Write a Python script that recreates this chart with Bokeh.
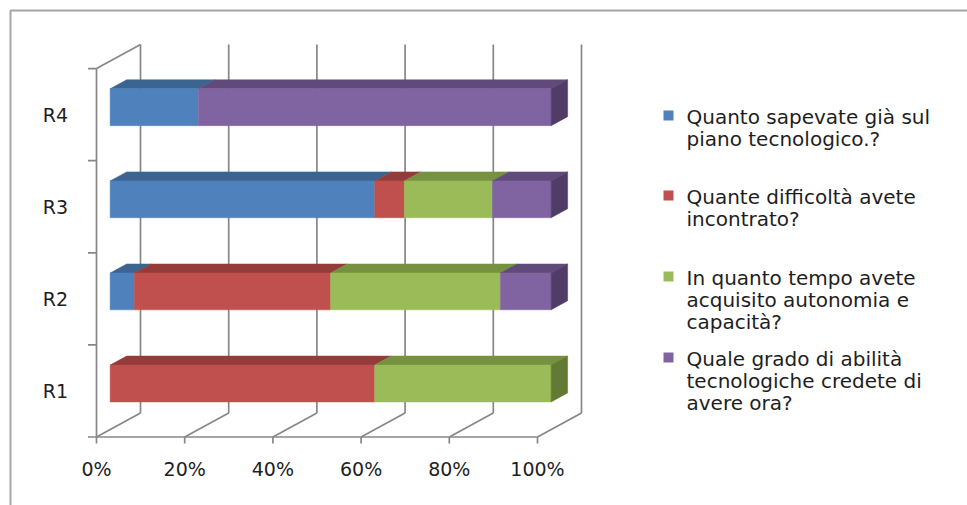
from bokeh.plotting import figure
from bokeh.models import Range1d
from bokeh.embed import file_html
from bokeh.resources import INLINE
from bokeh.core.properties import value

# ---------------- data ----------------
categories = ["R1", "R2", "R3", "R4"]
series_names = [
    "Quanto sapevate  già sul\npiano tecnologico.?",
    "Quante difficoltà avete\nincontrato?",
    "In quanto tempo avete\nacquisito autonomia  e\ncapacità?",
    "Quale grado di  abilità\ntecnologiche credete di\navere ora?",
]
s_sapevate = [0.0, 5.5, 60.0, 20.0]
s_difficolta = [60.0, 44.5, 6.7, 0.0]
s_tempo = [40.0, 38.5, 20.0, 0.0]
s_abilita = [0.0, 11.5, 13.3, 80.0]
series_values = [s_sapevate, s_difficolta, s_tempo, s_abilita]
x_ticks = [0, 20, 40, 60, 80, 100]
x_tick_labels = ["0%", "20%", "40%", "60%", "80%", "100%"]

front_colors = ["#4F81BD", "#C0504D", "#9BBB59", "#8064A2"]
top_colors = ["#3C6491", "#943C39", "#76913F", "#604A7B"]
side_colors = ["#34577F", "#7E3230", "#637A34", "#4F3D67"]

# ---------------- layout (pixels) ----------------
W, H = 967, 505
X0, KX = 96.0, 4.41     # front floor 0% position and px per percent
Y0, KY = 436.5, 92.1    # floor front edge and px per category unit


def px2x(px):
    return (px - X0) / KX


def px2y(py):
    return (Y0 - py) / KY


DX = 44.0 / KX          # full depth offset (data units)
DY = 24.0 / KY
BAR_FRONT = 0.31        # depth fraction of bar front face
BAR_DEPTH = 0.375       # depth fraction of bar thickness
BAR_HALF = 0.2

FONT = value("DejaVu Sans")
TXT = "#1E1E1E"
GRID = "#878787"

p = figure(width=W, height=H, output_backend="svg", toolbar_location=None,
           x_range=Range1d(px2x(0), px2x(W)), y_range=Range1d(px2y(H), px2y(0)),
           x_axis_type=None, y_axis_type=None, min_border=0,
           background_fill_color="white", border_fill_color="white")
p.outline_line_color = None

# outer chart frame (top and left edges)
p.line(x=[px2x(10), px2x(10), px2x(W + 10)], y=[px2y(H + 10), px2y(10), px2y(10)],
       line_color="#A6A6A6", line_width=2)

ncat = len(categories)

# back wall gridlines, floor diagonals, floor front edge and ticks
xs, ys = [], []
for t in x_ticks:
    xs.append([t + DX, t + DX]); ys.append([DY, ncat + DY])
    xs.append([t, t + DX]); ys.append([0, DY])
    xs.append([t, t]); ys.append([0, -6.5 / KY])
xs.append([x_ticks[0], x_ticks[-1]]); ys.append([0, 0])
# left wall
xs.append([0, 0]); ys.append([0, ncat])
xs.append([0, DX]); ys.append([ncat, ncat + DY])
for k in range(ncat + 1):
    xs.append([-8.5 / KX, 0]); ys.append([k, k])
p.multi_line(xs=xs, ys=ys, line_color=GRID, line_width=1.7)

# bars
fx, fy = BAR_FRONT * DX, BAR_FRONT * DY
bx, by = BAR_DEPTH * DX, BAR_DEPTH * DY
for i in range(ncat):
    c0 = 0.0
    bottom = i + 0.5 - BAR_HALF + fy
    top = i + 0.5 + BAR_HALF + fy
    segs = []
    for j, vals in enumerate(series_values):
        v = vals[i]
        if v > 0:
            segs.append((j, c0, c0 + v))
        c0 += v
    for j, a, b in segs:
        p.patch(x=[a + fx, b + fx, b + fx + bx, a + fx + bx],
                y=[top, top, top + by, top + by],
                fill_color=top_colors[j], line_color=top_colors[j], line_width=0.5)
        p.quad(left=a + fx, right=b + fx, bottom=bottom, top=top,
               fill_color=front_colors[j], line_color=front_colors[j], line_width=0.5)
    j, a, b = segs[-1]
    p.patch(x=[b + fx, b + fx, b + fx + bx, b + fx + bx],
            y=[bottom, top, top + by, bottom + by],
            fill_color=side_colors[j], line_color=side_colors[j], line_width=0.5)

# axis labels
p.text(x=x_ticks, y=[px2y(468)] * len(x_ticks), text=x_tick_labels,
       text_font=FONT, text_font_size="19px", text_color=TXT,
       text_align="center", text_baseline="middle")
p.text(x=[px2x(55)] * ncat, y=[i + 0.5 for i in range(ncat)], text=categories,
       text_font=FONT, text_font_size="19px", text_color=TXT,
       text_align="center", text_baseline="middle")

# legend
leg_first = [116, 196, 277, 358]
leg_step = 22.3
for j, name in enumerate(series_names):
    p.scatter(x=[px2x(668)], y=[px2y(leg_first[j] - 1)], marker="square", size=10,
              fill_color=front_colors[j], line_color=None)
    lines = name.split("\n")
    p.text(x=[px2x(686)] * len(lines),
           y=[px2y(leg_first[j] + k * leg_step) for k in range(len(lines))],
           text=lines, text_font=FONT, text_font_size="20px", text_color=TXT,
           text_align="left", text_baseline="middle")

open("out.html", "w").write(file_html(p, INLINE))
